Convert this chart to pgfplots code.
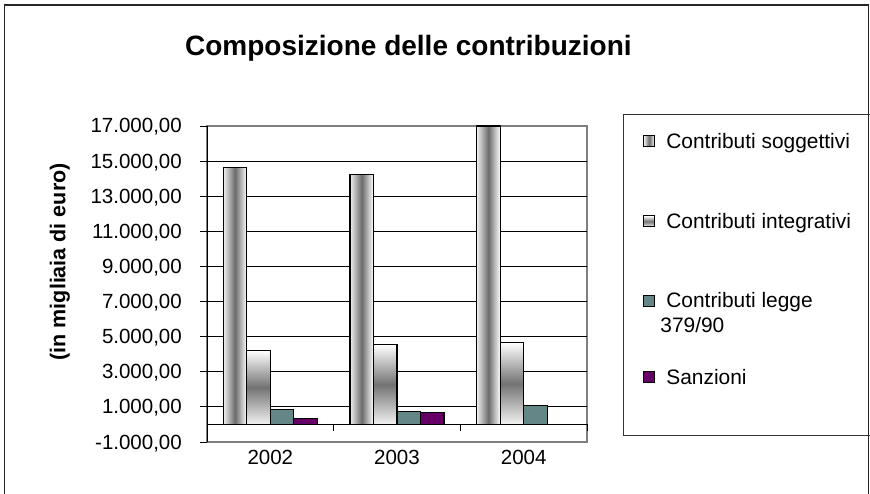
\documentclass[border=0pt]{standalone}
\usepackage{pgfplots}
\pgfplotsset{compat=1.18}
\usepackage{fontspec}
\setmainfont{Liberation Sans}
\definecolor{sanz}{RGB}{102,0,102}
\definecolor{legge}{RGB}{100,134,134}
\newcommand{\tf}{\fontsize{20.5}{24}\selectfont}
\newcommand{\lf}{\fontsize{20.9}{24}\selectfont}
\pgfplotsset{
  sq/.style={legend image code/.code={\path (-16.7pt,0pt) (20pt,0pt);\draw[##1, line width=1pt] (0pt,1.5pt) rectangle (11pt,12.5pt);}},
  sog/.style={ybar, bar width=23.5pt, bar shift=-35.25pt, sq, draw=black, line width=1.2pt,
    left color=white!94!black, right color=white, middle color=black!58},
  int/.style={ybar, bar width=23.5pt, bar shift=-11.75pt, sq, draw=black, line width=1.2pt,
    top color=white, bottom color=white!95!black, middle color=black!55},
  leg/.style={ybar, bar width=23.5pt, bar shift=11.75pt, sq, draw=black, line width=1.2pt, fill=legge},
  san/.style={ybar, bar width=23.5pt, bar shift=35.25pt, sq, draw=black, line width=1.2pt, fill=sanz},
}
\begin{document}
\begin{tikzpicture}[x=1pt,y=1pt]
\useasboundingbox (0,0) rectangle (870,493);
\begin{axis}[
  at={(207pt,51pt)}, anchor=south west,
  scale only axis, width=380pt, height=316pt,
  xmin=-0.5, xmax=2.5, ymin=-1000, ymax=17000,
  xtick={0,1,2}, xticklabels={2002,2003,2004},
  ytick={-1000,1000,...,17000},
  scaled y ticks=false,
  major tick length=0pt,
  axis line style={draw=black!50, line width=1.2pt},
  extra y ticks={1000,3000,...,15000},
  extra y tick labels={},
  extra y tick style={grid=major},
  major grid style={black, line width=0.8pt},
  yticklabel style={font=\tf, anchor=base east, inner sep=0pt, xshift=-25pt, yshift=-7pt},
  xticklabel style={font=\tf, anchor=base, inner sep=0pt, yshift=-22pt},
  /pgf/number format/fixed, /pgf/number format/fixed zerofill,
  /pgf/number format/precision=2, /pgf/number format/use comma,
  /pgf/number format/1000 sep={.}, /pgf/number format/assume math mode=true,
  ylabel={(in migliaia di euro)},
  ylabel style={font=\bfseries\fontsize{21.5}{26}\selectfont, at={(axis description cs:-0.387,0.570)}, anchor=center},
  title={Composizione delle contribuzioni},
  title style={font=\bfseries\fontsize{28}{33}\selectfont, at={(axis description cs:0.530,1.205)}, anchor=base},
  legend style={at={(axis description cs:1.0947,1.038)}, anchor=north west, draw=black!80, line width=1pt,
    font=\lf, cells={anchor=base west}},
]
\addplot[sog] coordinates {(0,14656)};
\addlegendentry{\rule{0pt}{30pt}Contributi soggettivi}
\addplot[int] coordinates {(0,4216)};
\addlegendentry{\rule{0pt}{74.4pt}Contributi integrativi\hspace*{25pt}}
\addplot[leg] coordinates {(0,855)};
\addlegendentry{\rule{0pt}{73.8pt}Contributi legge}
\addlegendimage{empty legend}
\addlegendentry{\rule{0pt}{19.4pt}\hspace*{-6pt}379/90}
\addplot[san] coordinates {(0,342)};
\addlegendentry{\rule{0pt}{46pt}Sanzioni}
\addlegendimage{empty legend}
\addlegendentry{\rule{0pt}{40pt}}
\addplot[sog, forget plot] coordinates {(1,14245)};
\addplot[sog, forget plot] coordinates {(2,17000)};
\addplot[int, forget plot] coordinates {(1,4540)};
\addplot[int, forget plot] coordinates {(2,4655)};
\addplot[leg, forget plot] coordinates {(1,760)};
\addplot[leg, forget plot] coordinates {(2,1100)};
\addplot[san, forget plot] coordinates {(1,665)};
\end{axis}
\begin{axis}[
  at={(207pt,51pt)}, anchor=south west,
  scale only axis, width=380pt, height=316pt,
  xmin=-0.5, xmax=2.5, ymin=-1000, ymax=17000,
  scaled ticks=false,
  axis x line=middle, axis y line=left,
  x axis line style={-}, y axis line style={-},
  axis line style={black, line width=0.9pt},
  xtick={0.5,1.5,2.5}, xticklabels={},
  ytick={-1000,1000,...,17000}, yticklabels={},
  tick align=outside, major tick length=7pt,
  tick style={black, line width=0.9pt},
]
\addplot[draw=none] coordinates {(0,0)};
\end{axis}
\draw[line width=1.5pt, black!85] (4.5,-20) rectangle (868.5,488);
\end{tikzpicture}
\end{document}
